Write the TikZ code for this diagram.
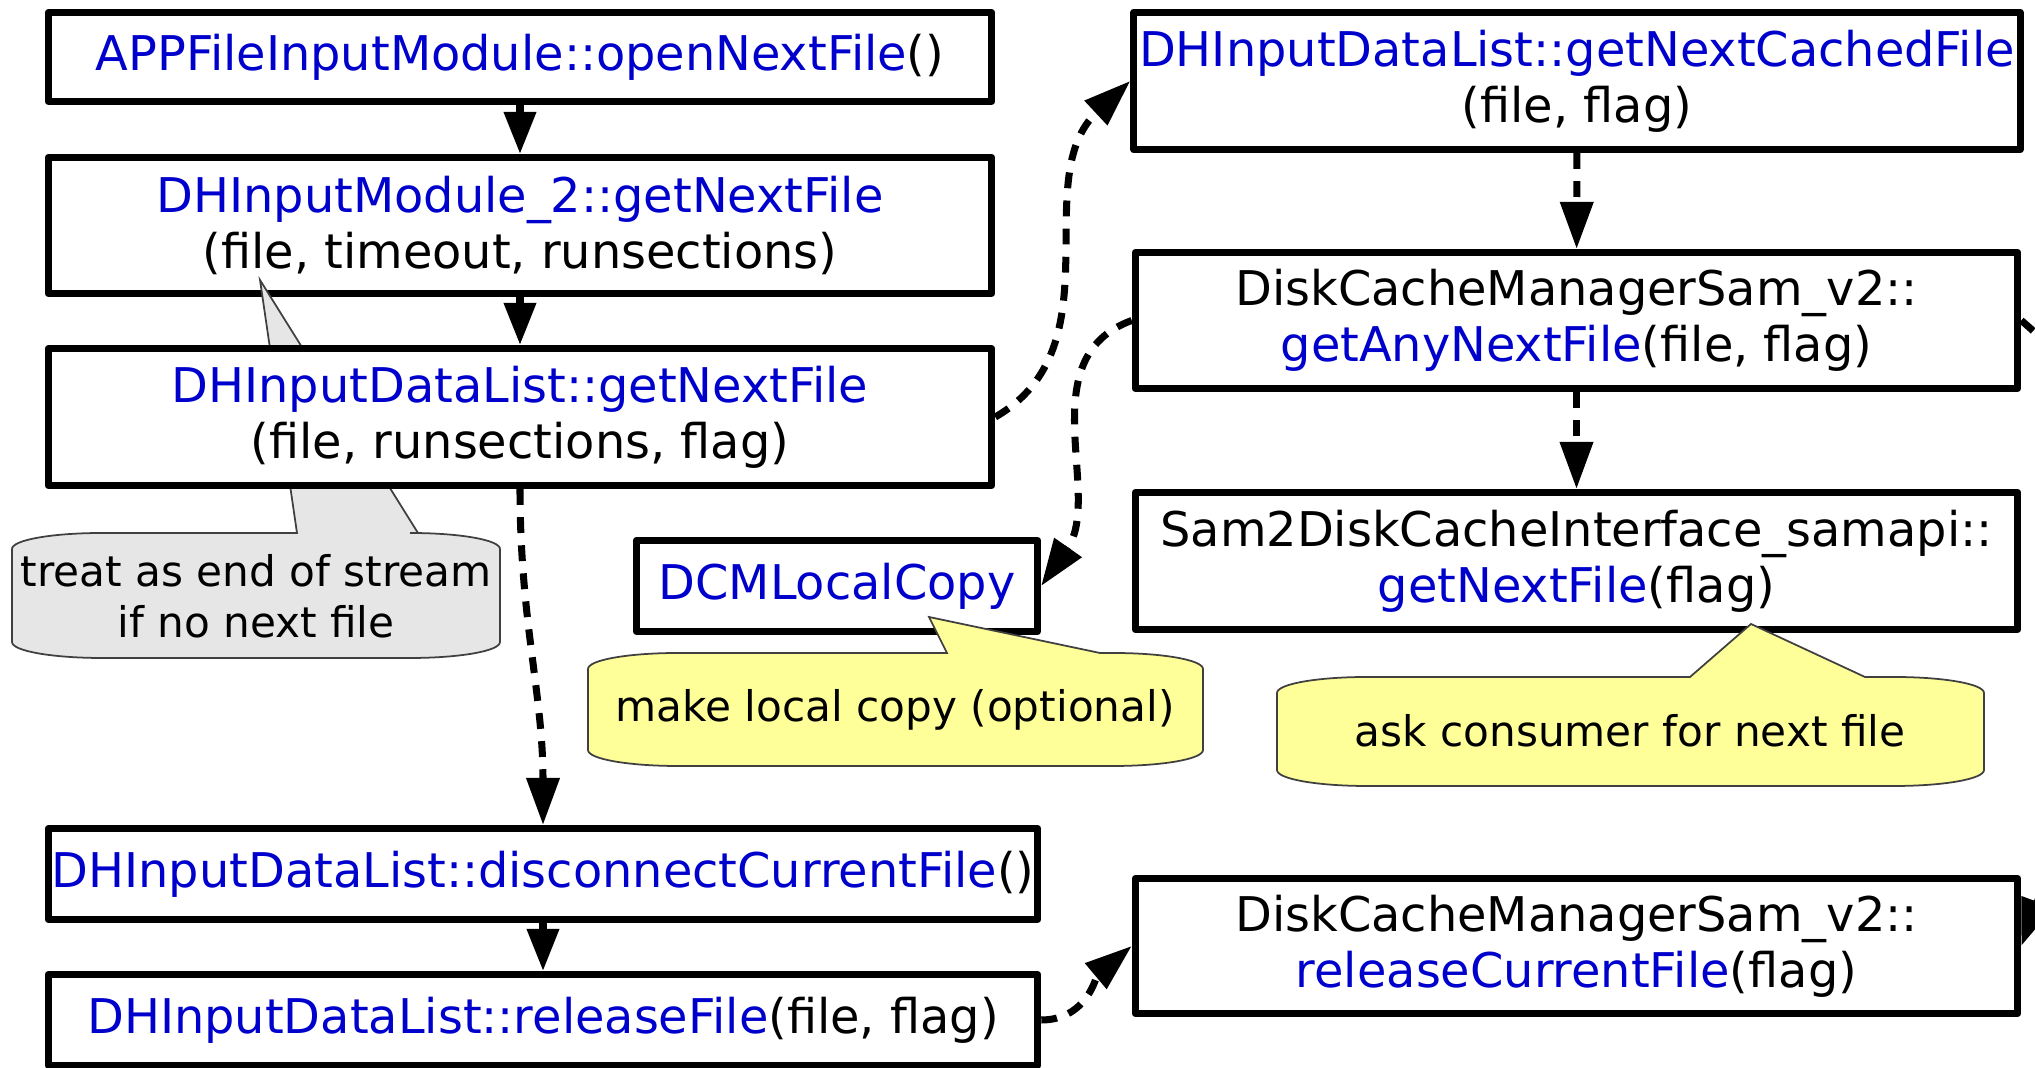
\documentclass[tikz,border=0pt]{standalone}
\usepackage{fontspec}
\setmainfont{DejaVu Sans}
\usetikzlibrary{arrows.meta}

\definecolor{fnblue}{HTML}{0000CC}
\definecolor{notegray}{HTML}{E6E6E6}
\definecolor{noteyellow}{HTML}{FFFF99}

\newcommand{\fn}[1]{\textcolor{fnblue}{#1}}
% #1 fill, #2 left, #3 top, #4 right, #5 bottom, #6/#7 pointer base, #8/#9 pointer tip
\newcommand{\callout}[9]{
\filldraw[fill=#1, draw=black!75, line width=0.5pt]
  (#2,#3+16) .. controls (#2,#3+7) and (#2+40,#3) .. (#2+90,#3)
  -- (#6,#3) -- (#8,#9) -- (#7,#3) -- (#4-90,#3)
  .. controls (#4-40,#3) and (#4,#3+7) .. (#4,#3+16)
  -- (#4,#5-16) .. controls (#4,#5-7) and (#4-40,#5) .. (#4-90,#5)
  -- (#2+90,#5) .. controls (#2+40,#5) and (#2,#5-7) .. (#2,#5-16) -- cycle;
}

\begin{document}
\begin{tikzpicture}[x=0.01cm, y=-0.01cm,
  fbox/.style={draw, line width=2pt, line join=round, fill=white, inner sep=0pt,
    align=center, font=\fontsize{13.6}{16}\selectfont},
  notetext/.style={align=center, inner sep=0pt, font=\fontsize{12}{14.4}\selectfont},
  call/.style={line width=2pt, -{Triangle[length=0.42cm,width=0.31cm]}},
  flow/.style={line width=2pt, dash pattern=on 4.5pt off 3.5pt,
    -{Triangle[length=0.47cm,width=0.32cm]}}]
\useasboundingbox (0,0) rectangle (2035,1068);

% left column
\node[fbox, minimum width=9.43cm, minimum height=0.89cm] (open) at (520,57)
  {\fn{APPFileInputModule::openNextFile}()};
\node[fbox, minimum width=9.43cm, minimum height=1.36cm] (module) at (520,225.5)
  {\fn{DHInputModule\_2::getNextFile}\\(file, timeout, runsections)};
\callout{notegray}{12}{533}{500}{658}{297}{418}{260}{280}
\node[notetext] (eos) at (256,596) {treat as end of stream\\if no next file};
\node[fbox, minimum width=9.43cm, minimum height=1.37cm] (list) at (520,417)
  {\fn{DHInputDataList::getNextFile}\\(file, runsections, flag)};
\node[fbox, minimum width=9.89cm, minimum height=0.91cm] (disc) at (543,874)
  {\fn{DHInputDataList::disconnectCurrentFile}()};
\node[fbox, minimum width=9.89cm, minimum height=0.91cm] (rel) at (543,1020)
  {\fn{DHInputDataList::releaseFile}(file, flag)};
\node[fbox, minimum width=4.01cm, minimum height=0.91cm] (local) at (837,586)
  {\fn{DCMLocalCopy}};

% right column
\node[fbox, minimum width=8.86cm, minimum height=1.37cm] (cached) at (1577,81)
  {\fn{DHInputDataList::getNextCachedFile}\\(file, flag)};
\node[fbox, minimum width=8.82cm, minimum height=1.36cm] (anynext) at (1576.5,320.5)
  {DiskCacheManagerSam\_v2::\\\fn{getAnyNextFile}(file, flag)};
\node[fbox, minimum width=8.82cm, minimum height=1.37cm] (samapi) at (1576.5,561)
  {Sam2DiskCacheInterface\_samapi::\\\fn{getNextFile}(flag)};
\node[fbox, minimum width=8.82cm, minimum height=1.35cm] (relcur) at (1576.5,946)
  {DiskCacheManagerSam\_v2::\\\fn{releaseCurrentFile}(flag)};

% notes
\callout{noteyellow}{588}{653}{1203}{766}{947}{1100}{929}{617}
\node[notetext] (copy) at (895,710) {make local copy (optional)};
\callout{noteyellow}{1277}{677}{1984}{786}{1690}{1865}{1751}{624}
\node[notetext] (ask) at (1630,731) {ask consumer for next file};

% calls
\draw[call] (open) -- (module);
\draw[call] (module) -- (list);
\draw[call] (disc) -- (rel);
\draw[flow] (list.south) to[out=-90,in=90] (disc.north);
\draw[flow] (list.east) to[out=30,in=223] (cached.west);
\draw[flow] (cached) -- (anynext);
\draw[flow] (anynext) -- (samapi);
\draw[flow] (anynext.west) to[out=200,in=55] (local.east);
\draw[flow] (rel.east) to[out=0,in=220] (relcur.west);
\draw[flow] (anynext.east) to[out=-40,in=70] (relcur.east);
\end{tikzpicture}
\end{document}
